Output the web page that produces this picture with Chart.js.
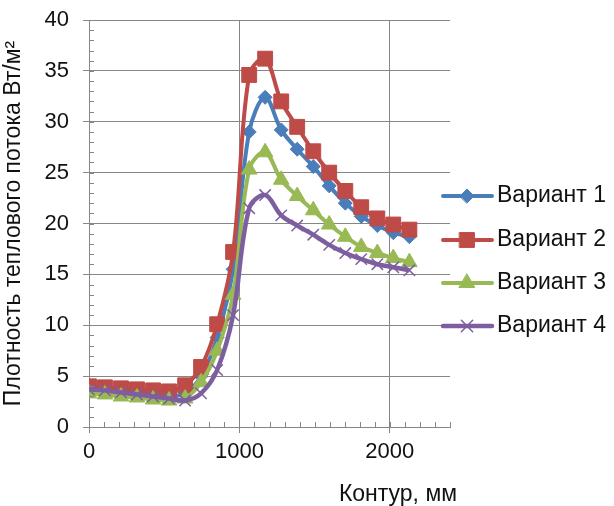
<!DOCTYPE html>
<html>
<head>
<meta charset="utf-8">
<script src="https://cdn.jsdelivr.net/npm/chart.js@4/dist/chart.umd.min.js"></script>
<style>
  html, body { margin: 0; padding: 0; background: #fff; }
  #wrap { width: 614px; height: 506px; position: relative; }
</style>
</head>
<body>
<div id="wrap"><canvas id="fluxChart"></canvas></div>
<script>
// contour position, mm
const contour = [0, 106, 213, 319, 426, 532, 639, 745, 852, 958, 1065, 1171, 1278, 1384, 1491, 1597, 1704, 1810, 1917, 2023, 2130];
// heat flux density, W/m2
const variant1 = [3.8, 3.7, 3.6, 3.4, 3.2, 3.0, 3.3, 5.0, 8.8, 15.5, 29.0, 32.4, 29.2, 27.3, 25.6, 23.7, 22.0, 20.7, 19.8, 19.1, 18.7];
const variant2 = [4.0, 3.9, 3.8, 3.7, 3.6, 3.5, 4.1, 5.9, 10.1, 17.2, 34.6, 36.2, 32.0, 29.5, 27.1, 25.0, 23.2, 21.6, 20.5, 19.9, 19.4];
const variant3 = [3.3, 3.2, 3.0, 2.9, 2.7, 2.6, 2.8, 4.4, 7.5, 13.0, 25.3, 27.0, 24.3, 22.7, 21.3, 19.9, 18.7, 17.7, 17.1, 16.6, 16.2];
const variant4 = [3.7, 3.6, 3.4, 3.2, 3.0, 2.8, 2.6, 3.3, 5.6, 11.0, 21.5, 22.8, 20.8, 19.8, 18.9, 17.9, 17.1, 16.5, 16.0, 15.7, 15.4];
const seriesNames = ['Вариант 1', 'Вариант 2', 'Вариант 3', 'Вариант 4'];
const xTicks = [0, 1000, 2000];

const axisGray = '#868686';
const font = 'Liberation Sans, Arial, sans-serif';

function pts(ys) {
    return contour.map((x, i) => ({ x: x, y: ys[i] }));
}

const styles = [
    { color: '#4a7ebb', pointStyle: 'rectRot', radius: 7, width: 4, order: 4 },
    { color: '#be4b48', pointStyle: 'rect', radius: 10.5, width: 4, order: 3 },
    { color: '#98b954', pointStyle: 'triangle', radius: 9, width: 4, order: 2 },
    { color: '#7d5fa0', pointStyle: 'crossRot', radius: 8, width: 4.5, order: 1 }
];

const allSeries = [variant1, variant2, variant3, variant4];

// minor ticks inside the plot, x axis title, legend with line and marker
const extras = {
    id: 'extras',
    afterDraw(chart) {
        const ctx = chart.ctx;
        const x = chart.scales.x, y = chart.scales.y;
        const a = chart.chartArea;
        ctx.save();
        ctx.strokeStyle = axisGray;
        ctx.lineWidth = 1;
        ctx.beginPath();
        for (let v = 0; v <= 40; v += 1) {
            const py = Math.round(y.getPixelForValue(v)) + 0.5;
            ctx.moveTo(a.left, py);
            ctx.lineTo(a.left + 5, py);
        }
        for (let v = 0; v <= 2400; v += 100) {
            const px = Math.round(x.getPixelForValue(v)) + 0.5;
            ctx.moveTo(px, a.bottom);
            ctx.lineTo(px, a.bottom - 5);
        }
        ctx.stroke();

        ctx.fillStyle = '#111';
        ctx.font = '23px ' + font;
        ctx.textAlign = 'right';
        ctx.textBaseline = 'middle';
        ctx.fillText('Контур, мм', 457, 495);

        // legend
        const legendY = [196, 240, 283, 326];
        styles.forEach((s, i) => {
            const cy = legendY[i];
            ctx.strokeStyle = s.color;
            ctx.lineWidth = s.width;
            ctx.lineCap = 'round';
            ctx.beginPath();
            ctx.moveTo(443, cy);
            ctx.lineTo(492, cy);
            ctx.stroke();
            ctx.fillStyle = s.color;
            ctx.strokeStyle = s.color;
            ctx.lineWidth = s.pointStyle === 'crossRot' ? 1.5 : 1;
            Chart.helpers.drawPoint(ctx, { pointStyle: s.pointStyle, radius: s.radius, rotation: 0, borderWidth: ctx.lineWidth }, 467, cy);
            ctx.fillStyle = '#111';
            ctx.font = '23px ' + font;
            ctx.textAlign = 'left';
            ctx.textBaseline = 'middle';
            ctx.fillText(seriesNames[i], 497, cy);
        });
        ctx.restore();
    }
};

document.addEventListener('DOMContentLoaded', function () {
    const ctx = document.getElementById('fluxChart').getContext('2d');
    new Chart(ctx, {
        type: 'line',
        data: {
            datasets: allSeries.map((ys, i) => ({
                label: seriesNames[i],
                data: pts(ys),
                borderColor: styles[i].color,
                backgroundColor: styles[i].color,
                borderWidth: styles[i].width,
                pointStyle: styles[i].pointStyle,
                pointRadius: styles[i].radius,
                pointBorderWidth: styles[i].pointStyle === 'crossRot' ? 1.5 : 1,
                pointBorderColor: styles[i].color,
                pointBackgroundColor: styles[i].color,
                tension: 0.35,
                fill: false,
                order: styles[i].order
            }))
        },
        options: {
            responsive: true,
            maintainAspectRatio: false,
            animation: false,
            layout: { padding: { top: 20, right: 164, left: 0, bottom: 0 } },
            plugins: {
                legend: { display: false },
                tooltip: { enabled: false }
            },
            scales: {
                x: {
                    type: 'linear',
                    min: 0,
                    max: 2400,
                    afterFit: s => { s.height = 79; s.paddingLeft = 0; s.paddingRight = 0; },
                    afterBuildTicks: s => { s.ticks = xTicks.map(v => ({ value: v })); },
                    ticks: {
                        callback: v => String(v),
                        color: '#111',
                        font: { family: font, size: 22 },
                        padding: 6
                    },
                    grid: {
                        color: c => (c.tick && c.tick.value > 0 ? axisGray : 'transparent'),
                        tickColor: axisGray,
                        tickLength: 6,
                        lineWidth: 1
                    },
                    border: { color: axisGray, width: 1 }
                },
                y: {
                    min: 0,
                    max: 40,
                    afterFit: s => { s.width = 89; s.paddingTop = 0; s.paddingBottom = 0; },
                    ticks: {
                        stepSize: 5,
                        color: '#111',
                        font: { family: font, size: 22 },
                        padding: 14
                    },
                    grid: {
                        color: c => (c.tick && c.tick.value > 0 ? axisGray : 'transparent'),
                        tickColor: axisGray,
                        tickLength: 6,
                        lineWidth: 1
                    },
                    border: { color: axisGray, width: 1 },
                    title: {
                        display: true,
                        text: 'Плотность теплового потока Вт/м²',
                        color: '#111',
                        font: { family: font, size: 23 },
                        padding: { top: 0, bottom: 4 }
                    }
                }
            }
        },
        plugins: [extras]
    });
});
</script>
</body>
</html>
